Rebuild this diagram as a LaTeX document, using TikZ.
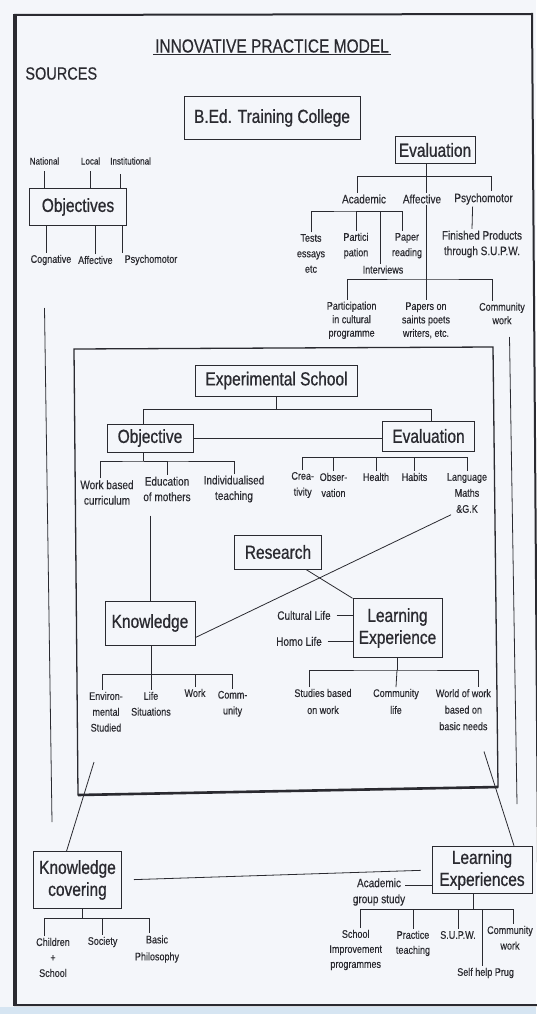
\documentclass[tikz,border=0pt]{standalone}
\usepackage{fontspec}
\setmainfont{Liberation Sans}[FakeStretch=0.82,FakeBold=0.3]
\newfontfamily\boxfont{Liberation Sans}[FakeStretch=0.82,FakeBold=0.8]
\definecolor{ink}{RGB}{42,42,48}
\definecolor{paper}{RGB}{244,246,250}
\definecolor{edge}{RGB}{214,229,242}
\begin{document}
\begin{tikzpicture}[x=1pt,y=-1pt,line width=0.8pt,color=ink,
  box/.style={draw,line width=1pt,inner sep=0pt,align=center,font=\boxfont\fontsize{18.9}{22}\selectfont},
  lbl/.style={inner sep=1.5pt,align=center,font=\fontsize{12.2}{15.5}\selectfont},
  sml/.style={inner sep=1.5pt,align=center,font=\fontsize{11}{15.5}\selectfont},
  tny/.style={inner sep=1.5pt,align=center,font=\fontsize{9.8}{11}\selectfont}]
        \useasboundingbox (0,0) rectangle (536,1014);
        \fill[paper] (0,0) rectangle (536,1014);
        \fill[edge] (0,1007) rectangle (536,1014);

        \draw[line width=2pt] (15,15) -- (532,14) -- (539,1005) -- (15,1005) -- cycle;
        \draw[line width=3.5pt] (15,14) -- (15,1006);
        \draw[line width=1.3pt] (74,349) -- (493,347) -- (498,787) -- (78,795) -- cycle;
        \draw[line width=2.6pt] (78,795) -- (498,787);

        \node[inner sep=1.5pt,font=\fontsize{18.9}{20}\selectfont] (title) at (272,46) {INNOVATIVE PRACTICE MODEL};
        \draw[line width=0.6pt] (title.south west) -- (title.south east);
        \node[anchor=west,inner sep=0pt,font=\fontsize{17.7}{20}\selectfont] (src) at (25,73.5) {SOURCES};

        \node[box,minimum width=176pt,minimum height=42pt] (bed) at (272,118) {B.Ed. Training College};
        \node[box,minimum width=80pt,minimum height=27pt] (evtop) at (435,150) {Evaluation};
        \node[box,minimum width=97pt,minimum height=37.5pt] (objs) at (78,207) {Objectives};

        \node[tny] (nat) at (44.5,161) {National};
        \node[tny] (loc) at (90.6,161) {Local};
        \node[tny] (inst) at (130.6,161) {Institutional};
        \draw[shorten <=5pt] (nat.south) -- (nat.south |- objs.north);
        \draw[shorten <=5pt] (loc.south) -- (loc.south |- objs.north);
        \coordinate (instd) at (120.4,174);
        \draw (instd) -- (instd |- objs.north);
        \node[sml] (cog) at (51,260) {Cognative};
        \node[sml] (aff1) at (95.4,260) {Affective};
        \node[sml] (psy1) at (151,260) {Psychomotor};
        \draw ([xshift=-5pt]cog.north) -- ([xshift=-5pt]cog.north |- objs.south);
        \draw (aff1.north) -- (aff1.north |- objs.south);
        \draw (psy1.north west) -- (psy1.north west |- objs.south);

        \coordinate (ebus) at (426,176);
        \node[lbl] (acad) at (364,199) {Academic};
        \node[lbl] (aff2) at (422,199) {Affective};
        \node[lbl] (psy2) at (483.6,199) {Psychomotor};
        \draw (ebus |- evtop.south) -- (ebus) -| ([xshift=-7pt]acad.north);
        \draw (ebus) -| ([xshift=4pt]aff2.north);
        \draw (ebus) -| ([xshift=8pt]psy2.north);

        \coordinate (abus) at (356,211);
        \node[sml] (tests) at (311,253.5) {Tests\\essays\\etc};
        \node[sml] (part) at (356,245.7) {Partici\\pation};
        \node[sml] (papr) at (407,245.7) {Paper\\reading};
        \node[sml] (intv) at (383,269.6) {Interviews};
        \draw (tests.north) |- (abus) -| ([xshift=-5pt]papr.north);
        \draw (abus) -- (part.north);
        \draw ([xshift=-3pt]intv.north) |- (abus);

        \coordinate (cbus) at (426,279);
        \node[sml,font=\fontsize{11}{13.5}\selectfont] (partc) at (351.6,320.3) {Participation\\in cultural\\programme};
        \node[sml,font=\fontsize{11}{13.5}\selectfont] (paps) at (426,320.3) {Papers on\\saints poets\\writers, etc.};
        \node[sml,font=\fontsize{11}{13.5}\selectfont] (comw) at (502,313.5) {Community\\work};
        \draw ([xshift=4pt]aff2.south) -- (paps.north);
        \draw ([xshift=-4pt]partc.north) |- (cbus) -| ([xshift=-10pt]comw.north);
        \node[lbl] (fin) at (482,244.2) {Finished Products\\through S.U.P.W.};
        \draw ([xshift=-11pt]psy2.south) -- ([xshift=-10pt]fin.north);

        \coordinate (srcl) at (44.5,308);
        \coordinate (srcl2) at (52,822);
        \draw (srcl) -- (srcl2);
        \coordinate (srcr) at (509.5,337);
        \coordinate (srcr2) at (517,804);
        \draw (srcr) -- (srcr2);

        \node[box,minimum width=162pt,minimum height=31pt] (exps) at (276.5,380.5) {Experimental School};
        \node[box,minimum width=86pt,minimum height=28pt] (objv) at (150,438) {Objective};
        \node[box,minimum width=92.5pt,minimum height=30pt] (evin) at (428.5,436) {Evaluation};
        \coordinate (xbus) at (276.5,409.6);
        \draw (exps.south) -- (xbus) -| ([xshift=-7pt]objv.north);
        \draw (xbus) -| ([xshift=3pt]evin.north);
        \draw (objv.east) -- (objv.east -| evin.west);

        \coordinate (obus) at (143.6,461);
        \node[lbl] (wbc) at (107,492.5) {Work based\\curriculum};
        \node[lbl] (edm) at (167,489) {Education\\of mothers};
        \node[lbl] (indt) at (234,489) {Individualised\\teaching};
        \draw (obus |- objv.south) -- (obus);
        \draw ([xshift=-7pt]wbc.north) |- (obus) -| (indt.north);
        \draw (obus) -| (edm.north);

        \coordinate (vbus) at (428.5,457.5);
        \node[sml,font=\fontsize{11}{16}\selectfont] (crea) at (302.7,485) {Crea-\\tivity};
        \node[sml,font=\fontsize{11}{16}\selectfont] (obsv) at (333.5,485) {Obser-\\vation};
        \node[sml] (hlth) at (376,477) {Health};
        \node[sml] (habt) at (414.5,477) {Habits};
        \node[sml,font=\fontsize{11}{16}\selectfont] (lang) at (467,493) {Language\\Maths\\\&G.K};
        \draw (crea.north) |- (vbus) -| (lang.north);
        \draw (obsv.north) -- (obsv.north |- vbus);
        \draw (hlth.north) -- (hlth.north |- vbus);
        \draw (habt.north) -- (habt.north |- vbus);

        \node[box,minimum width=86.5pt,minimum height=34pt] (res) at (278,552) {Research};
        \node[box,minimum width=90pt,minimum height=44pt] (know) at (150,623) {Knowledge};
        \node[box,minimum width=89pt,minimum height=58.5pt] (lexp) at (397.5,628) {Learning\\Experience};
        \draw ([xshift=6pt]lang.south west) -- ([yshift=8pt]know.south east);
        \coordinate (edmd) at (150,515.6);
        \draw (edmd) -- (know.north);
        \draw ([xshift=28pt]res.south) -- (lexp.north west);
        \node[lbl] (cul) at (304,615.4) {Cultural Life};
        \node[lbl] (homo) at (299,641.4) {Homo Life};
        \draw[shorten <=4pt] (cul.east) -- (cul.east -| lexp.west);
        \draw[shorten <=4pt] (homo.east) -- (homo.east -| lexp.west);

        \coordinate (kbus) at (151,674.6);
        \node[sml,font=\fontsize{11}{15.8}\selectfont] (env) at (106,711.8) {Environ-\\mental\\Studied};
        \node[sml,font=\fontsize{11}{15.8}\selectfont] (life) at (151,703.8) {Life\\Situations};
        \node[sml] (wrk) at (195,693) {Work};
        \node[sml,font=\fontsize{11}{15.8}\selectfont] (comty) at (232.6,703.8) {Comm-\\unity};
        \draw (know.south -| kbus) -- (kbus);
        \draw ([xshift=-4pt]env.north) |- (kbus) -| (comty.north);
        \draw (kbus) -- (life.north);
        \draw (wrk.north) -- (wrk.north |- kbus);

        \coordinate (lbus) at (397,670);
        \node[sml,font=\fontsize{11}{17}\selectfont] (stud) at (323,701.5) {Studies based\\on work};
        \node[sml,font=\fontsize{11}{17}\selectfont] (cmlf) at (396,701.5) {Community\\life};
        \node[sml,font=\fontsize{11}{16.5}\selectfont] (wow) at (463.4,709.7) {World of work\\based on\\basic needs};
        \draw (lexp.south -| lbus) -- (lbus);
        \draw ([xshift=-13.5pt]stud.north) |- (lbus) -| ([xshift=14.5pt]wow.north);
        \draw (lbus) -- (cmlf.north);

        \node[box,minimum width=88pt,minimum height=56.5pt] (kcov) at (77.5,880) {Knowledge\\covering};
        \node[box,minimum width=100pt,minimum height=47.6pt] (lexps) at (482,870) {Learning\\Experiences};
        \coordinate (envd) at (94,762);
        \draw (envd) -- ([xshift=-11pt]kcov.north);
        \coordinate (wowd) at (484,751.5);
        \draw (wowd) -- ([xshift=32pt]lexps.north);
        \draw[shorten <=12pt,shorten >=11pt] (kcov.east) -- (lexps.west);
        \node[lbl,font=\fontsize{12.2}{16}\selectfont] (acgs) at (379,892) {Academic\\group study};
        \coordinate (acd) at (405,885);
        \draw (acd) -- (acd -| lexps.west);

        \coordinate (kcb) at (82,918);
        \node[sml] (chld) at (53,957.5) {Children\\+\\School};
        \node[sml] (soc) at (102.6,942) {Society};
        \node[sml,font=\fontsize{11}{17}\selectfont] (bphl) at (157,949) {Basic\\Philosophy};
        \draw (kcov.south -| kcb) -- (kcb);
        \draw ([xshift=-8.5pt]chld.north) |- (kcb) -| ([xshift=-8pt]bphl.north);
        \draw (kcb) -| (soc.north);

        \coordinate (lsb) at (473.7,909.7);
        \node[sml,font=\fontsize{11}{15}\selectfont] (schi) at (355.7,950) {School\\Improvement\\programmes};
        \node[sml,font=\fontsize{11}{15}\selectfont] (prac) at (413,943.4) {Practice\\teaching};
        \node[sml] (supw) at (458,935) {S.U.P.W.};
        \node[sml,font=\fontsize{11}{15.6}\selectfont] (cmwk) at (510,937.8) {Community\\work};
        \node[sml] (shp) at (485.6,973) {Self help Prug};
        \draw (lexps.south -| lsb) -- (lsb);
        \draw ([xshift=5pt]schi.north) |- (lsb) -| ([xshift=3pt]cmwk.north);
        \draw (lsb) -| (prac.north);
        \draw (lsb) -| (supw.north);
        \draw (lsb) -| ([xshift=-3.6pt]shp.north);
\end{tikzpicture}
\end{document}
